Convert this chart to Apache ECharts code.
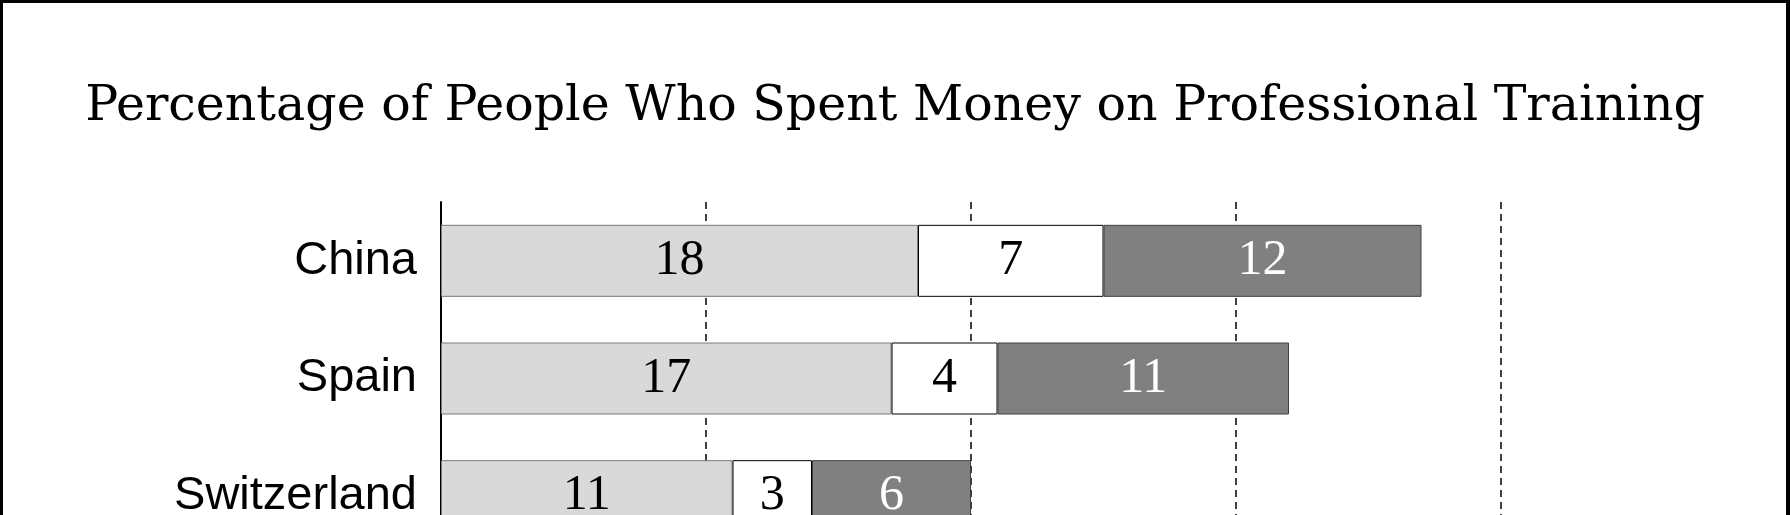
<!DOCTYPE html>
<html>
<head>
<meta charset="utf-8">
<script src="https://cdn.jsdelivr.net/npm/echarts@6/dist/echarts.min.js"></script>
<style>
  html, body { margin: 0; padding: 0; background: #fff; overflow: hidden; }
  #wrap { position: relative; width: 1790px; height: 515px; overflow: hidden; }
  #chart { position: absolute; left: 0; top: 0; width: 1790px; height: 600px; }
  #frame { position: absolute; left: 0; top: 0; width: 1790px; height: 600px; box-sizing: border-box;
           border-top: 3px solid #000; border-left: 3px solid #000; border-right: 4px solid #000; pointer-events: none; }
</style>
</head>
<body>
<div id="wrap"><div id="chart"></div><div id="frame"></div></div>
<script>
const titleText = 'Percentage of People Who Spent Money on Professional Training';
const categories = ['China', 'Spain', 'Switzerland'];
const valuesA = [18, 17, 11];
const valuesB = [7, 4, 3];
const valuesC = [12, 11, 6];

const chart = echarts.init(document.getElementById('chart'), null, { renderer: 'canvas' });

const labelFont = { show: true, position: 'inside', fontFamily: 'Liberation Serif', fontSize: 50 };

chart.setOption({
  animation: false,
  backgroundColor: '#fff',
  title: {
    text: titleText,
    left: 'center',
    top: 78,
    textStyle: { fontFamily: 'DejaVu Serif', fontSize: 49, fontWeight: 'normal', color: '#000' }
  },
  grid: { left: 441, right: 289, top: 202, bottom: 45 },
  xAxis: {
    type: 'value', min: 0, max: 40, interval: 10,
    axisLine: { show: false }, axisTick: { show: false }, axisLabel: { show: false },
    splitLine: { show: true, lineStyle: { color: '#000', width: 1.5, type: [7, 5] } }
  },
  yAxis: {
    type: 'category', data: categories, inverse: true, offset: 4,
    axisLine: { show: true, lineStyle: { color: '#000', width: 2 } },
    axisTick: { show: false },
    axisLabel: { margin: 20, fontFamily: 'Liberation Sans', fontSize: 47, color: '#000' },
    splitLine: { show: false }
  },
  series: [
    { type: 'bar', stack: 'total', data: valuesA, barWidth: 72,
      itemStyle: { color: '#d9d9d9', borderColor: '#7a7a7a', borderWidth: 1 },
      label: Object.assign({ color: '#000' }, labelFont) },
    { type: 'bar', stack: 'total', data: valuesB, barWidth: 72,
      itemStyle: { color: '#ffffff', borderColor: '#000000', borderWidth: 1 },
      label: Object.assign({ color: '#000' }, labelFont) },
    { type: 'bar', stack: 'total', data: valuesC, barWidth: 72,
      itemStyle: { color: '#808080', borderColor: '#404040', borderWidth: 1 },
      label: Object.assign({ color: '#fff' }, labelFont) }
  ]
});
</script>
</body>
</html>
